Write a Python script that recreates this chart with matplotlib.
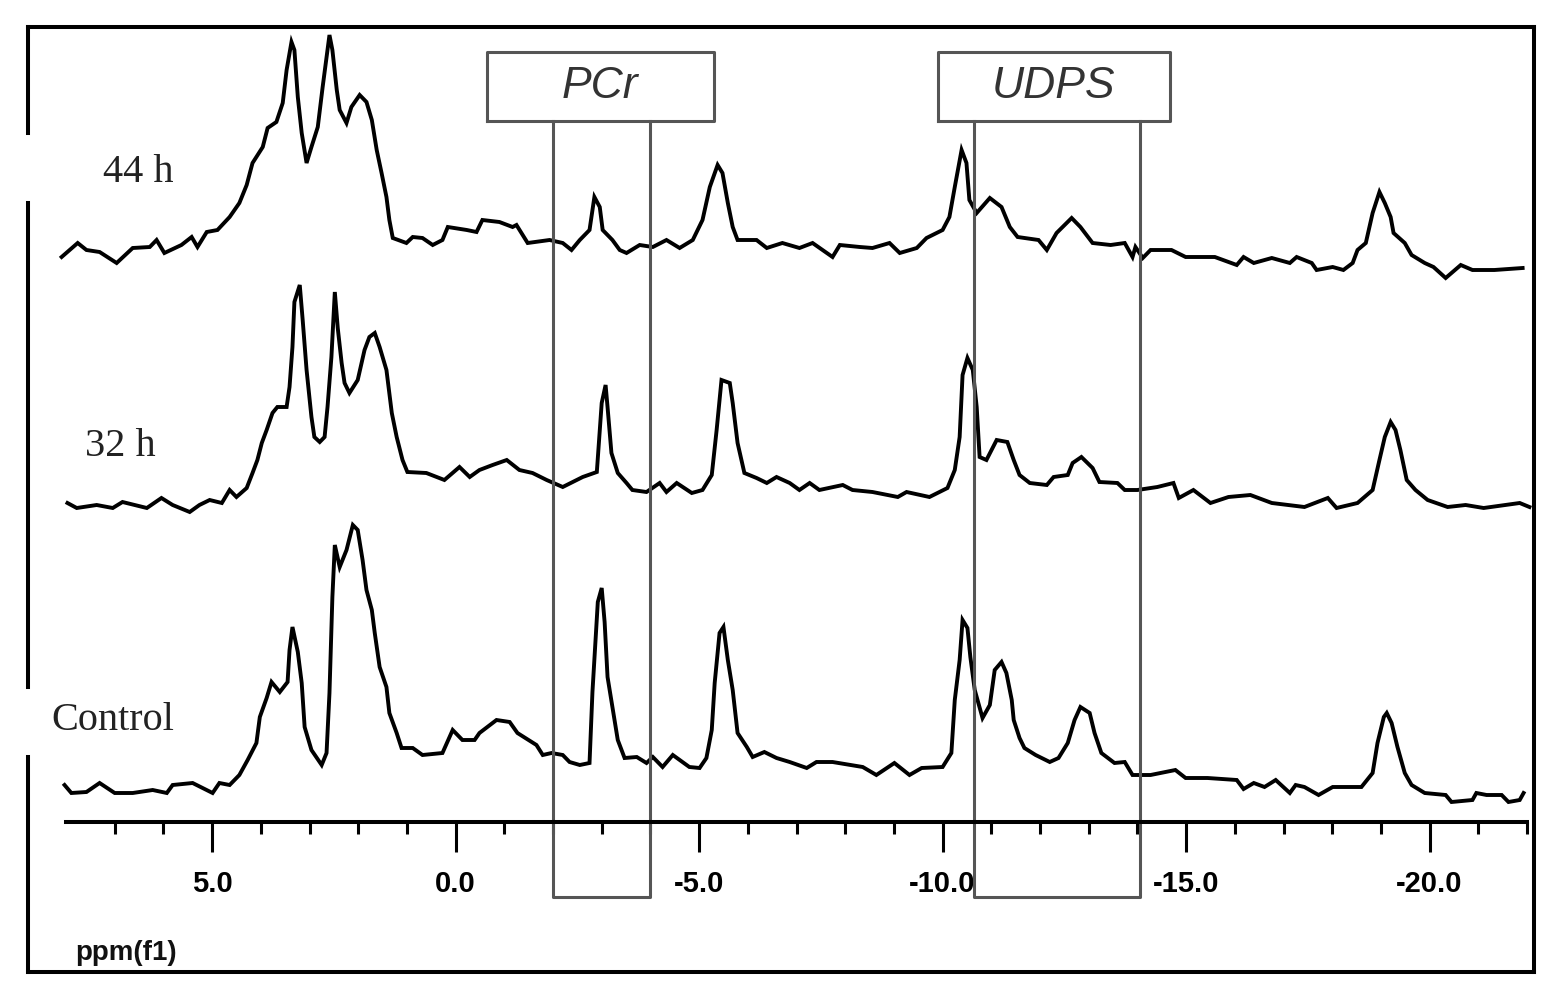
import matplotlib.pyplot as plt
from matplotlib.lines import Line2D
import numpy as np

# chemical shift (ppm) and intensity above each trace's own baseline
ppm_44h = [8.09, 7.76, 7.58, 7.31, 6.96, 6.63, 6.28, 6.14, 5.98, 5.63, 5.42, 5.30, 5.11, 4.89,
           4.64, 4.44, 4.29, 4.17, 3.96, 3.86, 3.68, 3.55, 3.47, 3.37, 3.31, 3.24, 3.16, 3.06,
           2.96, 2.83, 2.73, 2.59, 2.53, 2.44, 2.38, 2.24, 2.14, 1.97, 1.83, 1.72, 1.62, 1.52,
           1.42, 1.36, 1.29, 1.01, 0.88, 0.68, 0.47, 0.27, 0.16, -0.23, -0.43, -0.55, -0.90,
           -1.17, -1.25, -1.48, -1.93, -2.20, -2.38, -2.55, -2.75, -2.85, -2.96, -3.02, -3.22,
           -3.37, -3.51, -3.78, -4.05, -4.33, -4.60, -4.87, -5.07, -5.22, -5.38, -5.48, -5.59,
           -5.69, -5.79, -6.18, -6.39, -6.71, -7.06, -7.33, -7.74, -7.89, -8.30, -8.56, -8.91,
           -9.12, -9.47, -9.67, -10.00, -10.14, -10.25, -10.39, -10.49, -10.55, -10.70, -10.97,
           -11.21, -11.38, -11.54, -11.97, -12.14, -12.34, -12.65, -12.83, -13.08, -13.45,
           -13.74, -13.90, -13.96, -14.11, -14.27, -14.70, -14.99, -15.59, -16.04, -16.18,
           -16.39, -16.76, -17.13, -17.27, -17.58, -17.68, -18.01, -18.23, -18.42, -18.52,
           -18.69, -18.83, -18.97, -19.08, -19.20, -19.26, -19.49, -19.63, -19.90, -20.08,
           -20.33, -20.64, -20.88, -21.33, -21.91]
int_44h = [-7, 7, 0, -2, -13, 2, 3, 10, -3, 5, 13, 3, 18, 20,
           33, 47, 65, 87, 103, 122, 128, 147, 180, 208, 200, 153, 117, 87,
           103, 123, 163, 215, 200, 160, 140, 127, 143, 155, 148, 130, 100, 77,
           53, 30, 12, 7, 13, 12, 5, 10, 23, 20, 18, 30, 28,
           23, 25, 7, 10, 7, 0, 10, 20, 53, 43, 20, 10,
           0, -3, 5, 3, 10, 2, 10, 30, 63, 85, 77, 47,
           23, 10, 10, 2, 7, 2, 7, -7, 5, 3, 2, 7,
           -3, 2, 12, 20, 33, 63, 100, 87, 50, 37, 52,
           43, 23, 13, 10, 0, 17, 32, 23, 7, 5,
           7, -7, 3, -8, 0, 0, -7, -7, -15, -7,
           -13, -8, -13, -7, -13, -20, -17, -20, -13, 0,
           7, 37, 58, 47, 33, 17, 7, -5, -13, -17,
           -28, -15, -20, -20, -18]

ppm_32h = [7.97, 7.78, 7.37, 7.04, 6.84, 6.34, 6.04, 5.81, 5.46, 5.26, 5.05, 4.80, 4.64, 4.50,
           4.29, 4.17, 4.07, 3.98, 3.88, 3.76, 3.66, 3.47, 3.41, 3.35, 3.31, 3.20, 3.14, 3.06,
           2.96, 2.90, 2.79, 2.69, 2.63, 2.55, 2.48, 2.42, 2.34, 2.28, 2.18, 2.01, 1.87, 1.77,
           1.66, 1.56, 1.42, 1.31, 1.21, 1.09, 0.99, 0.60, 0.23, -0.08, -0.29, -0.49, -0.76,
           -1.05, -1.31, -1.58, -1.87, -2.20, -2.61, -2.90, -3.00, -3.08, -3.12, -3.20, -3.33,
           -3.51, -3.63, -3.92, -4.19, -4.33, -4.54, -4.85, -5.07, -5.26, -5.36, -5.46, -5.63,
           -5.69, -5.79, -5.93, -6.18, -6.39, -6.59, -6.86, -7.06, -7.27, -7.47, -7.95, -8.15,
           -8.56, -9.08, -9.26, -9.73, -10.10, -10.25, -10.35, -10.41, -10.51, -10.62, -10.70,
           -10.76, -10.90, -11.11, -11.33, -11.46, -11.58, -11.79, -12.14, -12.28, -12.57,
           -12.67, -12.85, -13.08, -13.22, -13.59, -13.74, -14.00, -14.41, -14.74, -14.85,
           -15.15, -15.50, -15.87, -16.32, -16.76, -17.43, -17.91, -18.09, -18.52, -18.83,
           -18.97, -19.08, -19.20, -19.30, -19.40, -19.53, -19.71, -19.96, -20.37, -20.74,
           -21.11, -21.85, -22.05]
int_32h = [2, -3, 0, -3, 3, -3, 7, 0, -7, 0, 5, 2, 15, 8,
           17, 32, 45, 62, 75, 92, 98, 98, 118, 158, 203, 220, 185, 135,
           88, 68, 63, 68, 98, 148, 213, 177, 142, 122, 112, 125, 155, 168,
           172, 158, 135, 92, 68, 45, 33, 32, 25, 38, 28, 35, 40,
           45, 35, 32, 25, 18, 28, 33, 102, 120, 98, 52, 32,
           22, 15, 13, 22, 13, 22, 12, 15, 30, 75, 125, 122,
           102, 62, 32, 27, 22, 28, 22, 15, 22, 15, 20, 15,
           13, 8, 13, 8, 17, 35, 68, 130, 147, 135, 98,
           48, 45, 65, 63, 45, 30, 22, 20, 28, 30,
           42, 48, 37, 23, 22, 15, 15, 18, 22, 7,
           15, 2, 8, 10, 2, -2, 7, -3, 2, 15,
           45, 68, 83, 75, 55, 25, 15, 5, -2, 0,
           -3, 2, -2]

ppm_ctrl = [8.03, 7.89, 7.58, 7.31, 7.00, 6.63, 6.22, 5.93, 5.81, 5.40, 5.11, 4.99, 4.85, 4.64,
            4.44, 4.27, 4.09, 4.02, 3.88, 3.78, 3.61, 3.45, 3.41, 3.35, 3.24, 3.16, 3.10, 2.96,
            2.75, 2.65, 2.59, 2.53, 2.48, 2.38, 2.24, 2.11, 2.01, 1.91, 1.83, 1.72, 1.66, 1.56,
            1.42, 1.36, 1.21, 1.11, 0.88, 0.68, 0.27, 0.06, -0.14, -0.39, -0.49, -0.84, -1.11,
            -1.27, -1.66, -1.79, -1.97, -2.20, -2.34, -2.55, -2.75, -2.81, -2.92, -3.00, -3.06,
            -3.12, -3.22, -3.33, -3.47, -3.72, -3.92, -4.05, -4.25, -4.46, -4.80, -5.01, -5.15,
            -5.26, -5.32, -5.42, -5.50, -5.59, -5.69, -5.79, -5.98, -6.10, -6.34, -6.59, -6.86,
            -7.21, -7.41, -7.74, -8.36, -8.64, -9.01, -9.32, -9.57, -10.00, -10.18, -10.25,
            -10.35, -10.41, -10.51, -10.57, -10.66, -10.82, -10.97, -11.07, -11.21, -11.31,
            -11.42, -11.46, -11.58, -11.68, -11.91, -12.20, -12.38, -12.57, -12.71, -12.83,
            -13.02, -13.12, -13.26, -13.53, -13.74, -13.90, -14.27, -14.78, -14.99, -15.44,
            -16.04, -16.18, -16.39, -16.61, -16.84, -17.13, -17.25, -17.43, -17.72, -18.01,
            -18.60, -18.83, -18.93, -19.06, -19.12, -19.22, -19.34, -19.49, -19.63, -19.90,
            -20.33, -20.45, -20.88, -20.96, -21.17, -21.48, -21.62, -21.85, -21.93]
int_ctrl = [5, -3, -2, 7, -3, -3, 0, -3, 5, 7, 0, -3, 7, 5,
            15, 30, 47, 73, 92, 108, 98, 108, 140, 163, 138, 107, 63, 40,
            25, 37, 97, 193, 245, 223, 240, 265, 260, 230, 200, 180, 157, 123,
            103, 77, 57, 42, 42, 35, 37, 60, 50, 50, 57, 70, 68,
            57, 45, 35, 37, 35, 28, 25, 27, 98, 188, 202, 168,
            113, 83, 50, 32, 33, 27, 33, 23, 35, 23, 22, 32,
            60, 107, 157, 163, 130, 100, 57, 43, 33, 38, 32, 28,
            22, 28, 28, 23, 15, 27, 15, 22, 23, 37, 90,
            130, 170, 162, 133, 100, 72, 85, 120, 128, 117,
            90, 70, 52, 42, 35, 28, 32, 47, 70, 83,
            77, 57, 37, 27, 28, 15, 15, 20, 12, 12,
            10, 1, 7, 3, 10, -3, 5, 3, -5, 3,
            3, 17, 47, 73, 77, 67, 43, 17, 5, -3,
            -5, -12, -10, -3, -5, -5, -12, -10, -3]

traces = [(ppm_44h, int_44h), (ppm_32h, int_32h), (ppm_ctrl, int_ctrl)]
trace_names = ['44 h', '32 h', 'Control']
offsets = [572, 317, 32]

# highlighted regions (ppm)
regions = [('PCr', -2.0, -4.0, -0.64, -5.30), ('UDPS', -10.65, -14.05, -9.90, -14.66)]

major_ticks = [5, 0, -5, -10, -15, -20]
minor_ticks = [7, 6, 4, 3, 2, 1, -1, -2, -3, -4, -6, -7, -8, -9, -11, -12, -13, -14,
               -16, -17, -18, -19, -21, -22]

narrow = ['Liberation Sans Narrow', 'Liberation Sans', 'DejaVu Sans']

fig = plt.figure(figsize=(15.59, 10), dpi=100)
ax = fig.add_axes([66 / 1559, 0.178, (1527 - 66) / 1559, 0.795])

for (x, y), off in zip(traces, offsets):
    ax.plot(x, np.array(y) + off, color='black', lw=2.8,
            solid_joinstyle='miter', clip_on=False)

ax.set_xlim(8, -22)
ax.set_ylim(0, 795)

for s in ['top', 'left', 'right']:
    ax.spines[s].set_visible(False)
ax.spines['bottom'].set_linewidth(2.9)
ax.set_yticks([])
ax.set_xticks(major_ticks)
ax.set_xticklabels(['%.1f' % t for t in major_ticks])
ax.set_xticks(minor_ticks, minor=True)
ax.tick_params(axis='x', which='major', length=21.5, width=2.2, pad=13,
               labelsize=21)
ax.tick_params(axis='x', which='minor', length=8.5, width=2.2)
for lab in ax.get_xticklabels():
    lab.set_family(narrow)
    lab.set_fontweight('bold')

# boxed regions
box_col = '#555555'
for name, a, b, la, lb in regions:
    ax.plot([a, a, b, b], [701, -75, -75, 701], color=box_col, lw=2.2, clip_on=False)
    ax.plot([la, la, lb, lb, la], [701, 770, 770, 701, 701], color=box_col, lw=2.2,
            clip_on=False)
    ax.text((la + lb) / 2, 735, name, ha='center', va='center', fontsize=32,
            style='italic', color='#333333', family=['Liberation Sans', 'DejaVu Sans'])

# trace labels
label_pos = [(7.25, 650), (7.62, 375), (8.30, 102)]
for name, (lx, ly) in zip(trace_names, label_pos):
    ax.text(lx, ly, name, ha='left', va='center', fontsize=29, color='#222222',
            family=['Liberation Serif', 'DejaVu Serif'])

ax.text(7.82, -131, 'ppm(f1)', ha='left', va='center', fontsize=20, fontweight='bold',
        family=narrow, color='#111111')

# outer frame (left side is broken next to two of the labels)
W, H = 1559.0, 1000.0
fl, fr, ft, fb = 27.5 / W, 1534 / W, 1 - 27 / H, 1 - 972 / H
frame = [([fl, fr], [ft, ft]), ([fr, fr], [ft, fb]), ([fl, fr], [fb, fb]),
         ([fl, fl], [ft, 1 - 133 / H]), ([fl, fl], [1 - 203 / H, 1 - 687 / H]),
         ([fl, fl], [1 - 757 / H, fb])]
for xs, ys in frame:
    fig.add_artist(Line2D(xs, ys, color='black', lw=2.9, transform=fig.transFigure))

plt.savefig('out.png', dpi=100)
